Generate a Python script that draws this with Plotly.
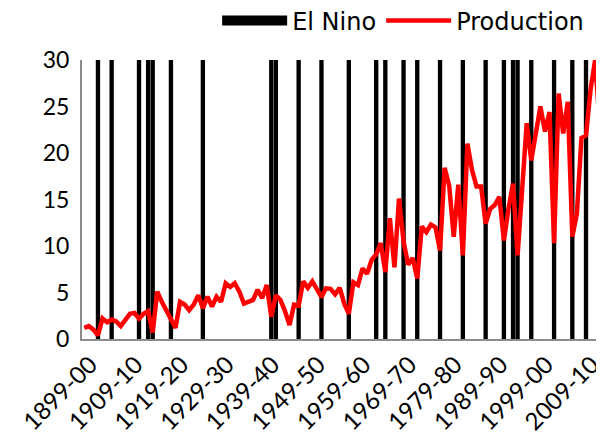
import plotly.graph_objects as go

# Seasons 1899-00 ... 2013-14
seasons = [f"{1899 + k}-{(1900 + k) % 100:02d}" for k in range(115)]

tick_labels = ["1899-00", "1909-10", "1919-20", "1929-30", "1939-40", "1949-50",
               "1959-60", "1969-70", "1979-80", "1989-90", "1999-00", "2009-10"]

el_nino_seasons = ["1902-03", "1905-06", "1911-12", "1913-14", "1914-15", "1918-19",
                   "1925-26", "1940-41", "1941-42", "1946-47", "1951-52", "1957-58",
                   "1963-64", "1965-66", "1969-70", "1972-73", "1977-78", "1982-83",
                   "1987-88", "1991-92", "1993-94", "1994-95", "1997-98", "2002-03",
                   "2006-07", "2009-10"]

production = [1.2, 1.4, 1.0, 0.4, 2.2, 1.8, 2.1, 1.9, 1.4, 2.0,
              2.7, 2.8, 2.2, 2.7, 3.0, 0.7, 5.1, 4.0, 3.0, 2.0,
              1.2, 4.0, 3.7, 3.1, 3.7, 4.7, 3.3, 4.55, 3.5, 4.55,
              4.0, 6.0, 5.6, 6.0, 5.1, 3.8, 4.0, 4.2, 5.3, 4.4,
              5.8, 2.4, 4.7, 4.2, 3.0, 1.5, 3.7, 3.6, 6.2, 5.5,
              6.2, 5.3, 4.5, 5.45, 5.4, 4.8, 5.5, 3.8, 2.7, 6.1,
              5.8, 7.6, 7.0, 8.5, 9.1, 10.3, 7.2, 13.0, 7.7, 15.1,
              10.5, 8.0, 8.7, 6.5, 12.1, 11.5, 12.3, 12.0, 9.5, 18.4,
              16.5, 11.0, 16.6, 9.0, 21.0, 18.2, 16.4, 16.4, 12.4, 14.0,
              14.4, 15.3, 10.6, 14.0, 16.7, 9.0, 16.4, 23.2, 19.2, 22.1,
              25.0, 22.3, 24.4, 10.3, 26.4, 22.1, 25.5, 11.0, 13.5, 21.6,
              21.9, 26.8, 30.0, 23.0, 27.3]

bar_height = 30
el_nino = [bar_height if s in el_nino_seasons else None for s in seasons]

FONT = "Lato"

fig = go.Figure()
fig.add_trace(go.Bar(x=seasons, y=el_nino, name="El Nino", showlegend=False,
                     legendgroup="elnino",
                     marker=dict(color="black", line=dict(width=0))))
# legend key for the bars (wide black block, as in the reference)
fig.add_trace(go.Scatter(x=[None], y=[None], name="El Nino", mode="lines",
                         legendgroup="elnino",
                         line=dict(color="black", width=11)))
fig.add_trace(go.Scatter(x=seasons, y=production, name="Production", mode="lines",
                         line=dict(color="#ff0000", width=4.5)))

fig.update_layout(
    width=604, height=440,
    margin=dict(l=74, r=0, t=52, b=109, autoexpand=False),
    paper_bgcolor="white", plot_bgcolor="white",
    font=dict(family=FONT, size=20, color="black"),
    bargap=0.05,
    showlegend=True,
    legend=dict(orientation="h", x=0.255, xanchor="left", y=1.14, yanchor="middle",
                font=dict(family="DejaVu Sans", size=24), itemwidth=65,
                bgcolor="rgba(0,0,0,0)", traceorder="normal"),
)
fig.update_xaxes(type="category", categoryorder="array", categoryarray=seasons,
                 range=[-0.5, 115.7], tickmode="array", tickvals=tick_labels,
                 ticktext=tick_labels, tickangle=-45, showgrid=False, automargin=False,
                 showline=True, linecolor="#8c8c8c", linewidth=2, ticks="",
                 ticklabelshift=6, tickfont=dict(size=24))
fig.update_yaxes(range=[0, 30], tickvals=[0, 5, 10, 15, 20, 25, 30], showgrid=False,
                 showline=True, linecolor="#8c8c8c", linewidth=2, ticks="", automargin=False,
                 zeroline=False, tickfont=dict(size=23), ticklabelstandoff=6)

fig.write_html("out.html")
